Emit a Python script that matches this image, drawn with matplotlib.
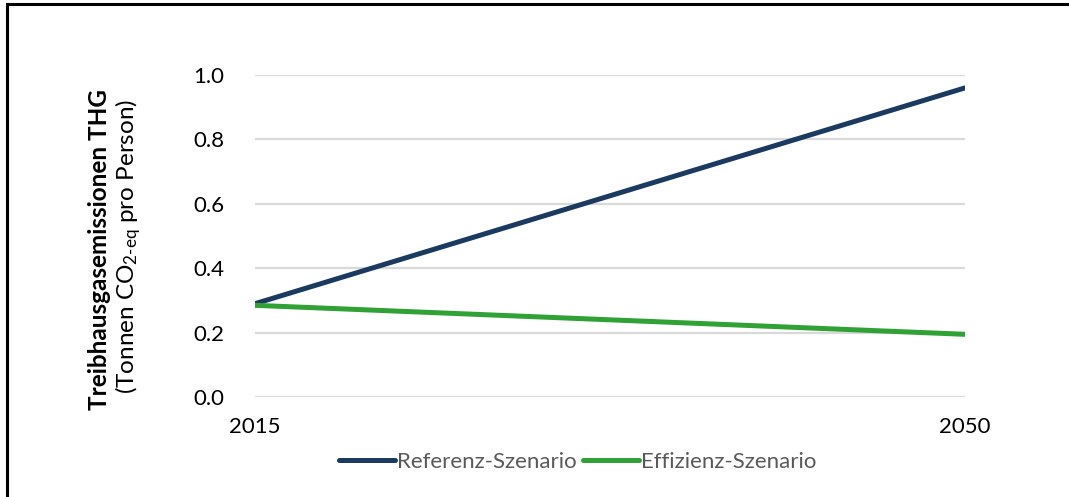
import matplotlib
matplotlib.use("Agg")
import matplotlib.pyplot as plt
from matplotlib.patches import Rectangle

years = [2015, 2050]
referenz = [0.29, 0.96]
effizienz = [0.285, 0.195]
yticks = [0.0, 0.2, 0.4, 0.6, 0.8, 1.0]

plt.rcParams['font.family'] = ['Lato', 'DejaVu Sans']
plt.rcParams['mathtext.fontset'] = 'custom'
plt.rcParams['mathtext.rm'] = 'Lato'
plt.rcParams['mathtext.it'] = 'Lato'

fig = plt.figure(figsize=(10.69, 4.97), dpi=100)
ax = fig.add_axes([0.2385, 0.201, 0.664, 0.648])

ax.plot(years, referenz, color='#1b3a5f', lw=3.6, solid_capstyle='round',
        label='Referenz-Szenario', zorder=3)
ax.plot(years, effizienz, color='#2fa135', lw=3.6, solid_capstyle='round',
        label='Effizienz-Szenario', zorder=3)

ax.set_xlim(2015, 2050)
ax.set_ylim(0, 1.0)
ax.set_xticks(years)
ax.set_yticks(yticks)
ax.set_yticklabels([f'{v:.1f}' for v in yticks])
ax.grid(axis='y', color='#d9d9d9', lw=1.6, zorder=0)
for s in ax.spines.values():
    s.set_visible(False)
ax.tick_params(length=0, labelsize=16, colors='black')
ax.tick_params(axis='y', pad=22)
ax.tick_params(axis='x', pad=14)
for lab in ax.get_yticklabels() + ax.get_xticklabels():
    lab.set_clip_on(False)

fig.text(100 / 1069, 1 - 250 / 497, 'Treibhausgasemissionen THG', rotation=90,
         ha='center', va='center', fontsize=17.5, fontweight='bold')
fig.text(128 / 1069, 1 - 246 / 497, r'(Tonnen CO$_{\rm 2\text{-}eq}$ pro Person)',
         rotation=90, ha='center', va='center', fontsize=17.5)

leg = ax.legend(loc='center', bbox_to_anchor=(0.455, -0.2), ncol=2, frameon=False,
                fontsize=16, handlelength=2.5, handletextpad=0.1, columnspacing=0.3)
for t in leg.get_texts():
    t.set_color('#595959')

# outer frame (left and top edges)
fig.patches.append(Rectangle((7 / 1069, -0.1), 1.2, 1 - 4 / 497 + 0.1,
                             transform=fig.transFigure, fill=False,
                             edgecolor='black', lw=2.2))

fig.savefig('out.png', dpi=100)
